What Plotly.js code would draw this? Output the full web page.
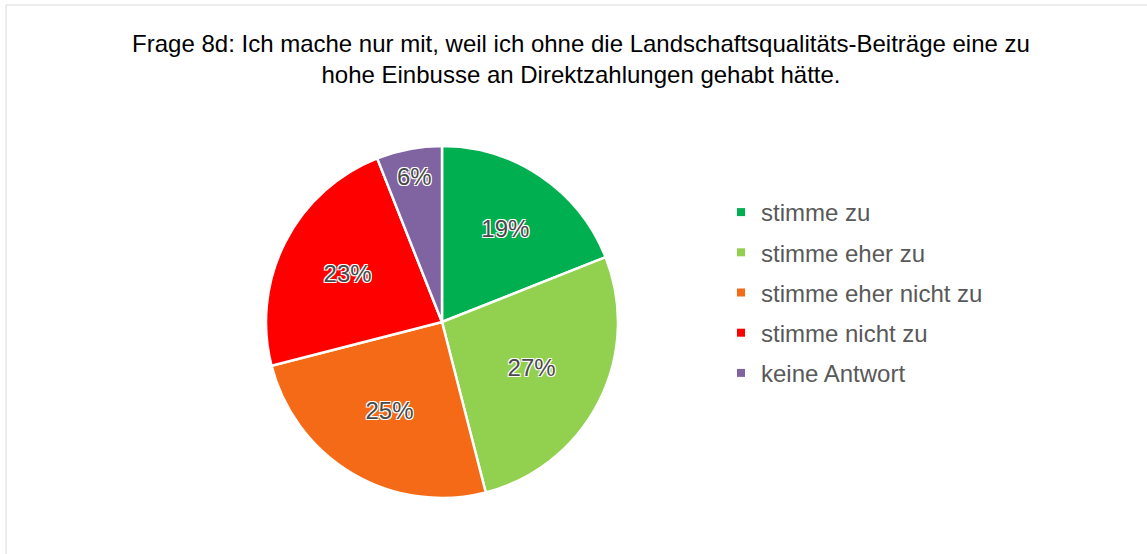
<!DOCTYPE html>
<html>
<head>
<meta charset="utf-8">
<script src="https://cdn.plot.ly/plotly-3.0.1.min.js"></script>
<style>
  html, body { margin: 0; padding: 0; background: #fff; }
  #chart { width: 1147px; height: 554px; }
</style>
</head>
<body>
<div id="chart"></div>
<script>
const categories = ["stimme zu", "stimme eher zu", "stimme eher nicht zu", "stimme nicht zu", "keine Antwort"];
const values = [19, 27, 25, 23, 6];
const colors = ["#00B050", "#92D050", "#F46A16", "#FF0000", "#8064A2"];
const titleText = "Frage 8d: Ich mache nur mit, weil ich ohne die Landschaftsqualitäts-Beiträge eine zu<br>hohe Einbusse an Direktzahlungen gehabt hätte.";

const W = 1147, H = 554;
const font = "Liberation Sans, Arial, sans-serif";

const pie = {
  type: "pie",
  labels: categories,
  values: values,
  sort: false,
  direction: "clockwise",
  rotation: 0,
  marker: { colors: colors, line: { color: "#ffffff", width: 2.5 } },
  texttemplate: "%{value}%",
  textposition: "inside",
  insidetextorientation: "horizontal",
  textfont: {
    family: font, size: 24, color: "#4a4a4a",
    shadow: "-1px -1px 0 #fff, 1px -1px 0 #fff, -1px 1px 0 #fff, 1px 1px 0 #fff"
  },
  hoverinfo: "label+percent",
  showlegend: false,
  domain: { x: [266 / W, 618 / W], y: [(H - 498) / H, (H - 146) / H] }
};

const legendTraces = categories.map((c, i) => ({
  type: "scatter",
  mode: "markers",
  x: [null], y: [null],
  name: c,
  legendgroup: "g" + i,
  marker: { symbol: "square", size: 8, color: colors[i] },
  showlegend: true,
  hoverinfo: "skip"
}));

const layout = {
  width: W, height: H,
  margin: { l: 0, r: 0, t: 0, b: 0 },
  paper_bgcolor: "#ffffff",
  plot_bgcolor: "rgba(0,0,0,0)",
  title: {
    text: titleText,
    font: { family: font, size: 24, color: "#000000" },
    x: 581 / W, xanchor: "center",
    y: 1 - 52 / H, yanchor: "top",
    xref: "container", yref: "container"
  },
  xaxis: { visible: false },
  yaxis: { visible: false },
  legend: {
    x: 721 / W, xanchor: "left",
    y: 1 - 190 / H, yanchor: "top",
    font: { family: font, size: 24, color: "#595959" },
    traceorder: "grouped",
    tracegroupgap: 6,
    bgcolor: "rgba(0,0,0,0)"
  },
  shapes: [{
    type: "rect", xref: "paper", yref: "paper",
    x0: 6 / W, x1: 1.05, y0: -0.05, y1: 1 - 5 / H,
    line: { color: "#D9D9D9", width: 1 },
    fillcolor: "rgba(0,0,0,0)", layer: "below"
  }]
};

Plotly.newPlot("chart", [pie].concat(legendTraces), layout, { displayModeBar: false });
</script>
</body>
</html>
